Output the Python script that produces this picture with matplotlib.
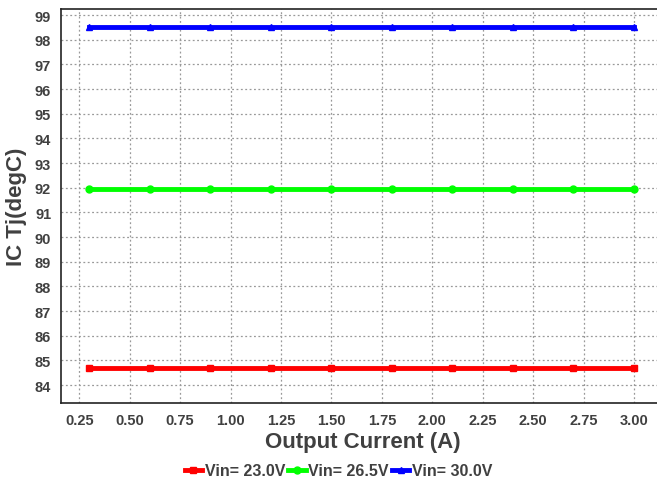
import matplotlib
matplotlib.use("Agg")
import matplotlib.pyplot as plt
import matplotlib.ticker as pltticker

current = [0.3, 0.6, 0.9, 1.2, 1.5, 1.8, 2.1, 2.4, 2.7, 3.0]
tj_23v = [84.7] * 10
tj_265v = [91.95] * 10
tj_30v = [98.5] * 10

labels = ["Vin= 23.0V", "Vin= 26.5V", "Vin= 30.0V"]
colors = ["#ff0000", "#00ff00", "#0000ff"]
markers = ["s", "o", "^"]

plt.rcParams["font.family"] = ["Liberation Sans", "DejaVu Sans"]
plt.rcParams["font.weight"] = "bold"

fig = plt.figure(figsize=(6.57, 4.81), dpi=100)
ax = fig.add_axes([0.0928, 0.160, 0.92, 0.819])

for ys, lab, c, m in zip([tj_23v, tj_265v, tj_30v], labels, colors, markers):
    ax.plot(current, ys, color=c, linewidth=3.5, marker=m, markersize=5, label=lab)

ax.set_xlim(0.159, 3.156)
ax.set_ylim(83.27, 99.24)
ax.xaxis.set_major_locator(pltticker.MultipleLocator(0.25))
ax.yaxis.set_major_locator(pltticker.MultipleLocator(1))
ax.xaxis.set_major_formatter(pltticker.FormatStrFormatter("%.2f"))

ax.grid(True, color="#999999", linestyle=(0, (1.5, 2)), linewidth=0.9)
ax.tick_params(length=0, labelsize=10.5, labelcolor="#404040", pad=7)
for lab in ax.get_xticklabels() + ax.get_yticklabels():
    lab.set_fontweight("bold")

ax.spines["right"].set_visible(False)
for side in ["left", "bottom", "top"]:
    ax.spines[side].set_color("#222222")
    ax.spines[side].set_linewidth(1.2)

ax.set_xlabel("Output Current (A)", fontsize=16, fontweight="bold", color="#404040", labelpad=3)
ax.set_ylabel("IC Tj(degC)", fontsize=16, fontweight="bold", color="#404040", labelpad=6)

# title is mostly cut off at the top edge in the reference
fig.text(0.445, 1.008, "Thermal Summary", ha="right", va="baseline",
         fontsize=14, fontweight="bold", color="#222222")

leg = fig.legend(loc="lower center", bbox_to_anchor=(0.515, -0.026), ncol=3,
                 frameon=False, fontsize=11.5, handlelength=1.1, handletextpad=0.15,
                 columnspacing=0.2)
for t in leg.get_texts():
    t.set_color("#404040")
    t.set_fontweight("bold")

fig.savefig("out.png", dpi=100)
